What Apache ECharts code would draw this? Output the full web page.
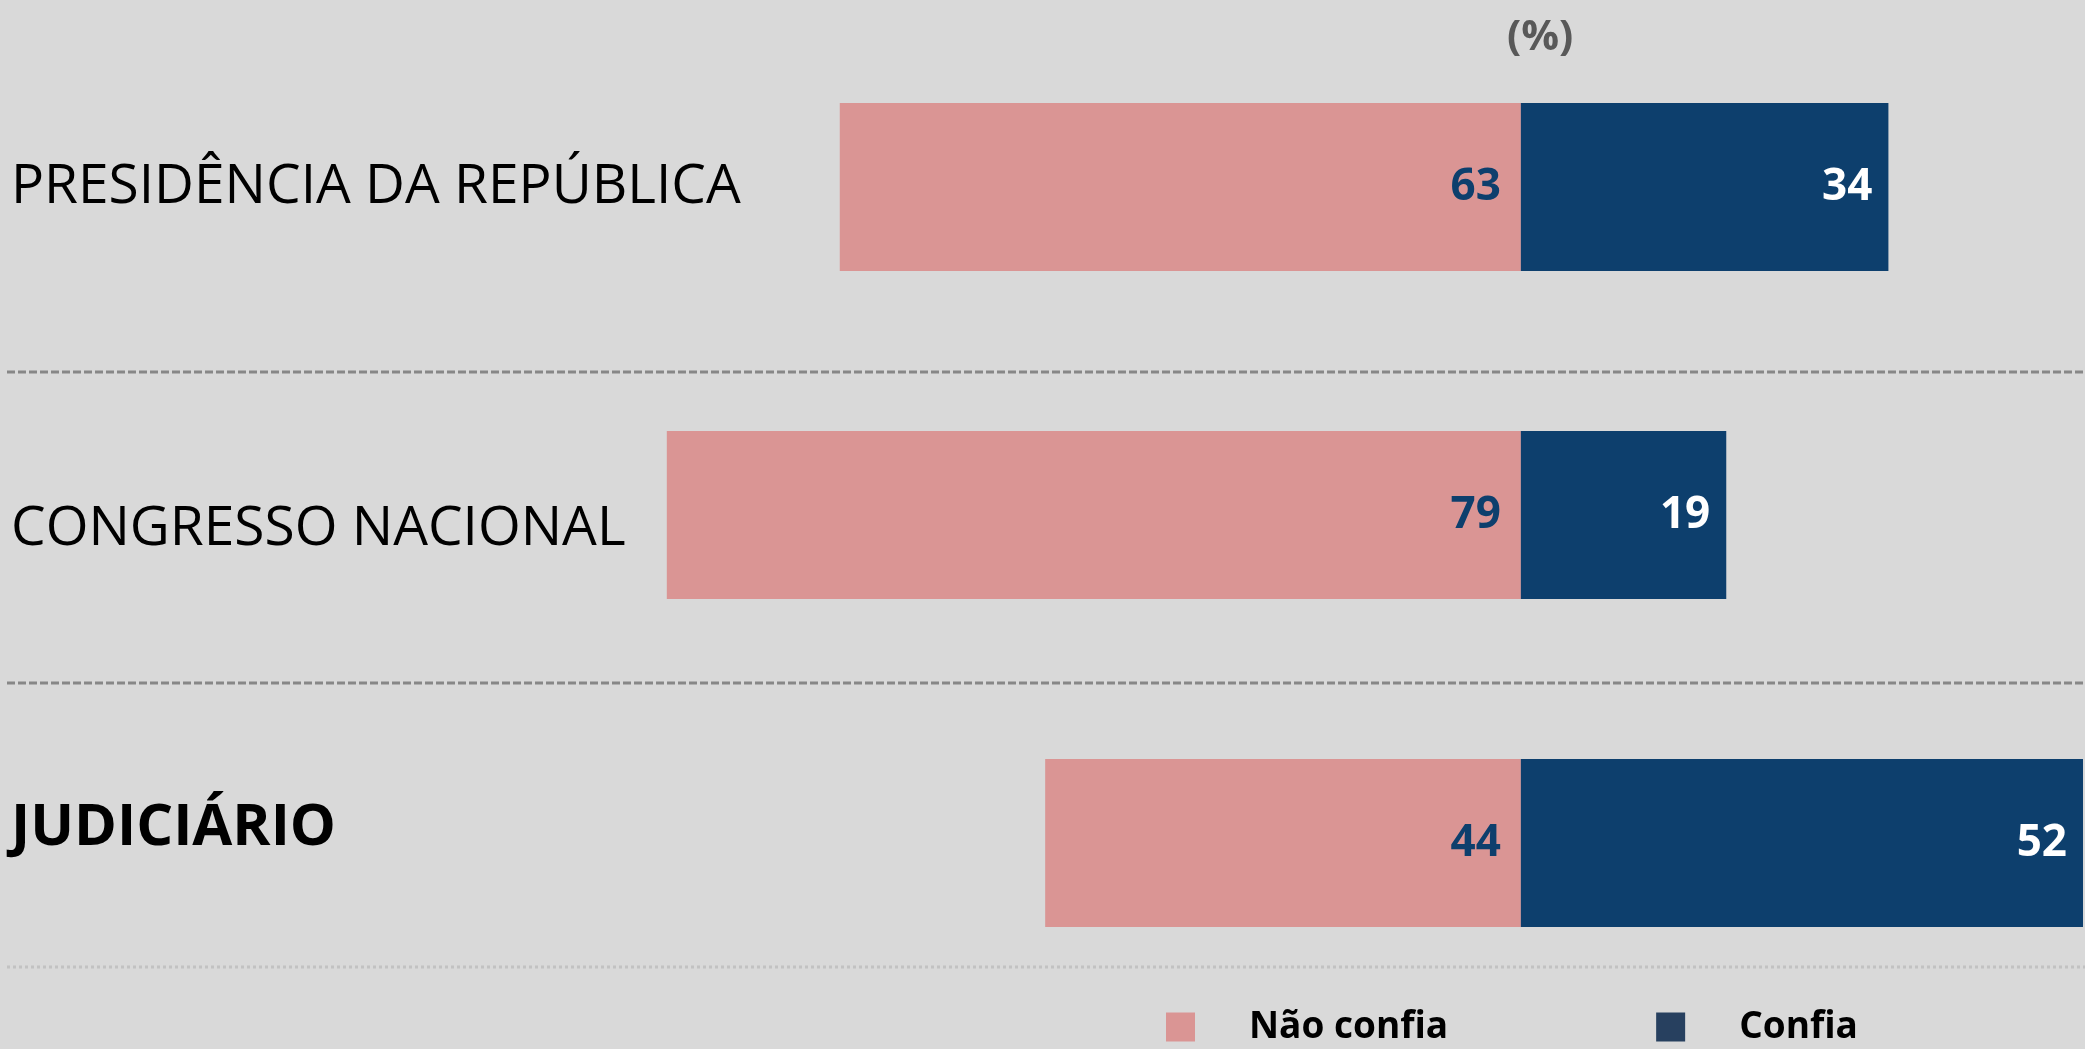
<!DOCTYPE html>
<html>
<head>
<meta charset="utf-8">
<script src="https://cdn.jsdelivr.net/npm/echarts@6/dist/echarts.min.js"></script>
<style>
  html, body { margin: 0; padding: 0; background: #d9d9d9; }
  #chart { width: 2085px; height: 1049px; }
</style>
</head>
<body>
<div id="chart"></div>
<script>
// dados da pesquisa (%)
var categories = ['PRESIDÊNCIA DA REPÚBLICA', 'CONGRESSO NACIONAL', 'JUDICIÁRIO'];
var naoConfia = [63, 79, 44];
var confia = [34, 19, 52];
var seriesNames = ['Não confia', 'Confia'];

var pink = '#da9594';
var navy = '#0d3f6d';

var chart = echarts.init(document.getElementById('chart'));

// estilo rich de cada rótulo (o último em negrito)
var labelRich = ['p', 'c', 'j'];

var option = {
  backgroundColor: '#d9d9d9',
  animation: false,
  title: {
    text: '(%)',
    left: 1502,
    top: 12,
    textStyle: { fontFamily: 'Open Sans', fontWeight: 'bold', fontSize: 42, color: '#595959' }
  },
  legend: {
    left: 1161,
    top: 1002,
    itemWidth: 29,
    itemHeight: 29,
    itemGap: 208,
    icon: 'rect',
    data: [
      { name: seriesNames[0], itemStyle: { color: pink } },
      { name: seriesNames[1], itemStyle: { color: '#27405f' } }
    ],
    textStyle: {
      fontFamily: 'Open Sans', fontWeight: 'bold', fontSize: 37, color: '#000',
      lineHeight: 40, padding: [0, 0, 0, 49]
    }
  },
  grid: { left: 656, right: 2, top: 23, bottom: 42, outerBoundsMode: 'none', containLabel: false },
  xAxis: {
    type: 'value',
    min: -80,
    max: 52,
    show: false
  },
  yAxis: {
    type: 'category',
    inverse: true,
    data: categories,
    axisLine: { show: false },
    axisTick: { show: false },
    splitLine: { show: false },
    axisLabel: {
      align: 'left',
      margin: 645,
      fontFamily: 'Open Sans',
      fontSize: 55,
      color: '#000',
      formatter: function (v, i) {
        return '{' + labelRich[i] + '|' + v + '}';
      },
      rich: {
        p: { fontFamily: 'Open Sans', fontSize: 55, color: '#000' },
        c: { fontFamily: 'Open Sans', fontSize: 55, color: '#000', padding: [28, 0, 0, 0] },
        j: { fontFamily: 'Open Sans', fontSize: 58, fontWeight: 'bold', color: '#000', padding: [0, 0, 30, 0] }
      }
    }
  },
  graphic: [
    { type: 'line', shape: { x1: 7, y1: 372, x2: 2085, y2: 372 }, style: { stroke: '#878787', lineWidth: 3, lineDash: [8, 3] } },
    { type: 'line', shape: { x1: 7, y1: 683, x2: 2085, y2: 683 }, style: { stroke: '#878787', lineWidth: 3, lineDash: [8, 3] } },
    { type: 'line', shape: { x1: 7, y1: 967, x2: 2085, y2: 967 }, style: { stroke: '#c2c2c2', lineWidth: 3, lineDash: [3, 3] } }
  ],
  series: [
    {
      name: seriesNames[0],
      type: 'bar',
      stack: 'total',
      barWidth: 168,
      itemStyle: { color: pink },
      label: {
        show: true,
        position: 'insideRight',
        distance: 20,
        formatter: function (p) { return Math.abs(p.value); },
        fontFamily: 'Open Sans', fontWeight: 'bold', fontSize: 44, color: navy
      },
      data: naoConfia.map(function (v) { return -v; })
    },
    {
      name: seriesNames[1],
      type: 'bar',
      stack: 'total',
      barWidth: 168,
      itemStyle: { color: navy },
      label: {
        show: true,
        position: 'insideRight',
        distance: 16,
        fontFamily: 'Open Sans', fontWeight: 'bold', fontSize: 44, color: '#fff'
      },
      data: confia
    }
  ]
};

chart.setOption(option);
</script>
</body>
</html>
